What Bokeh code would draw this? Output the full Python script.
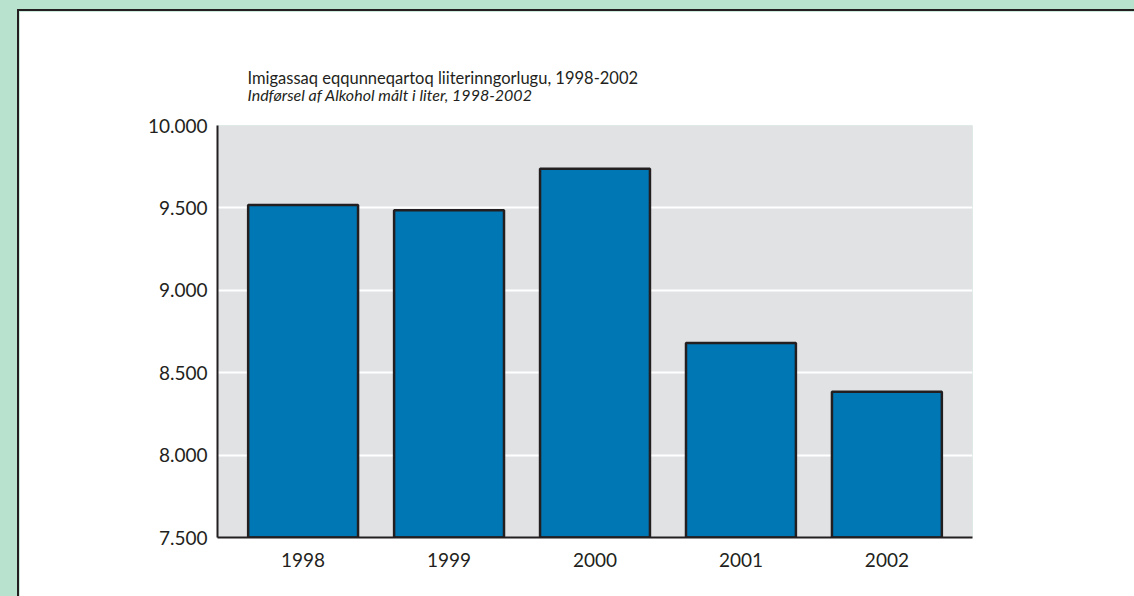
from bokeh.plotting import figure
from bokeh.models import (FactorRange, Range1d, Title, FixedTicker, ColumnDataSource)
from bokeh.layouts import column
from bokeh.embed import file_html
from bokeh.resources import INLINE

# ---- data ----
years = ["1998", "1999", "2000", "2001", "2002"]
litres = [9518, 9485, 9738, 8680, 8385]
y_ticks = [7500, 8000, 8500, 9000, 9500, 10000]
y_tick_labels = ["7.500", "8.000", "8.500", "9.000", "9.500", "10.000"]
title_kl = "Imigassaq eqqunneqartoq liiterinngorlugu, 1998-2002"
title_da = "Indførsel af Alkohol målt i liter, 1998-2002"

# ---- style ----
W, H = 1134, 596
GX, GY, BW = 17, 9, 2          # green margin and dark border width
CX, CY = GX + BW, GY + BW      # canvas origin in the page
FL, FR, FT, FB = 217, 970, 125, 535   # frame edges in page pixels
INK = "#231f20"
BLUE = "#0077b5"
GREY = "#e1e2e4"
GREEN = "#b9e2ce"
FONT = "Lato"

src = ColumnDataSource(dict(year=years, litres=litres))

p = figure(width=W - GX, height=H - GY,
           x_range=FactorRange(factors=years, range_padding=0.0865,
                               range_padding_units="absolute"),
           y_range=Range1d(y_ticks[0], y_ticks[-1]),
           output_backend="svg", toolbar_location=None, title=None,
           min_border_left=FL - CX, min_border_right=W - FR,
           min_border_top=FT - CY, min_border_bottom=H - FB,
           styles={"border-left": f"{BW}px solid {INK}",
                   "border-top": f"{BW}px solid {INK}"})

p.background_fill_color = GREY
p.border_fill_color = "white"
p.outline_line_color = None

p.vbar(x="year", top="litres", bottom=y_ticks[0], width=0.753, source=src,
       fill_color=BLUE, line_color=INK, line_width=2.5)

p.xgrid.visible = False
p.ygrid.ticker = FixedTicker(ticks=y_ticks[1:-1])
p.ygrid.grid_line_color = "white"
p.ygrid.grid_line_width = 2

p.yaxis.ticker = FixedTicker(ticks=y_ticks)
p.yaxis.major_label_overrides = {t: l for t, l in zip(y_ticks, y_tick_labels)}
for ax in (p.xaxis[0], p.yaxis[0]):
    ax.axis_line_color = INK
    ax.axis_line_width = 2
    ax.major_tick_line_color = None
    ax.minor_tick_line_color = None
    ax.major_label_text_font = FONT
    ax.major_label_text_font_size = "19px"
    ax.major_label_text_color = INK
p.yaxis.major_label_standoff = 4
p.xaxis.major_label_standoff = 9

# two-line title above the frame
t2 = Title(text=title_da, text_font=FONT, text_font_size="16px",
           text_font_style="italic", text_color=INK, align="left",
           offset=30, standoff=43)
t1 = Title(text=title_kl, text_font=FONT, text_font_size="16.5px",
           text_font_style="normal", text_color=INK, align="left",
           offset=30, standoff=-52)
p.add_layout(t2, "above")
p.add_layout(t1, "above")

root = column(p, styles={"background-color": GREEN,
                         "padding-left": f"{GX}px", "padding-top": f"{GY}px"})

open("out.html", "w").write(file_html(root, INLINE))
